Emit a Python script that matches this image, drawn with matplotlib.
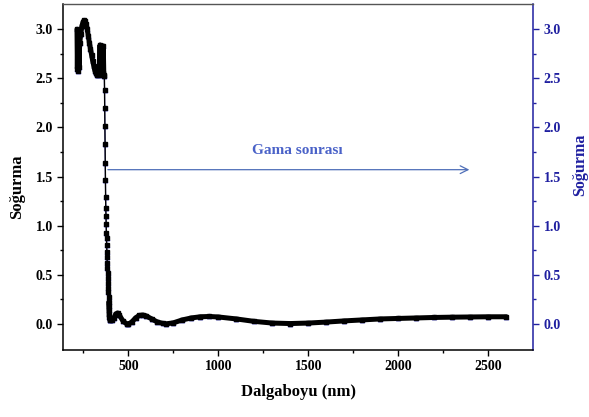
import numpy as np
import matplotlib
matplotlib.use("Agg")
import matplotlib.pyplot as plt

plt.rcParams['font.family'] = ['Liberation Serif', 'DejaVu Serif']
plt.rcParams['font.weight'] = 'bold'

# UV region: noisy band, peak, second band
wl_uv = [215, 217, 219, 221, 223, 226, 230, 236, 242, 248, 254, 260, 266,
         272, 278, 284, 290, 296, 302, 308, 314, 320, 326, 332, 336, 340,
         343, 346, 349, 352, 355, 358, 361, 364, 367]
abs_uv = [3.00, 2.60, 2.95, 2.58, 2.92, 2.62, 2.86, 2.95, 3.03, 3.07, 3.09,
          3.08, 3.05, 3.00, 2.93, 2.86, 2.80, 2.74, 2.68, 2.63, 2.58, 2.55,
          2.53, 2.53, 2.56, 2.62, 2.84, 2.55, 2.82, 2.53, 2.80, 2.55, 2.83,
          2.53, 2.52]

# absorption edge
wl_edge = [368, 369, 370, 371, 372, 373, 374, 375, 376, 377, 378, 379, 380,
           381, 382, 383, 384, 385, 386, 387, 388, 389, 390, 391, 392, 393,
           394, 395, 396, 398, 400]
abs_edge = [2.38, 2.20, 2.01, 1.83, 1.64, 1.46, 1.29, 1.18, 1.10, 1.02, 0.93,
            0.87, 0.80, 0.73, 0.68, 0.62, 0.57, 0.52, 0.47, 0.42, 0.37, 0.32,
            0.27, 0.22, 0.18, 0.14, 0.10, 0.07, 0.05, 0.04, 0.04]

# visible / NIR tail
wl_vis = [410, 420, 430, 440, 450, 470, 490, 500, 520, 540, 560, 580, 600,
          630, 660, 690, 710, 750, 800, 850, 900, 950, 1000, 1100, 1200,
          1300, 1400, 1500, 1600, 1700, 1800, 1900, 2000, 2100, 2200, 2300,
          2400, 2500, 2600]
abs_vis = [0.04, 0.06, 0.10, 0.11, 0.09, 0.03, 0.00, -0.005, 0.02, 0.06,
           0.085, 0.09, 0.08, 0.05, 0.02, 0.005, 0.0, 0.01, 0.04, 0.06, 0.072,
           0.075, 0.07, 0.05, 0.025, 0.008, 0.003, 0.008, 0.018, 0.03, 0.04,
           0.05, 0.055, 0.06, 0.065, 0.068, 0.07, 0.072, 0.072]

wl = np.array(wl_uv + wl_edge + wl_vis)
absorb = np.array(abs_uv + abs_edge + abs_vis)

yticks = [0.0, 0.5, 1.0, 1.5, 2.0, 2.5, 3.0]
xticks = [500, 1000, 1500, 2000, 2500]
blue = '#1f1fa0'

fig = plt.figure(figsize=(5.89, 4.17), dpi=100)
ax = fig.add_axes([0.1075, 0.161, 0.798, 0.830])
ax2 = ax.twinx()

# right-axis series (triangles) behind the black squares
ax2.plot(wl, absorb, color='#5a5ad8', lw=0.8, marker='^', ms=3.5,
         mfc='none', mec='#6a6ae0', mew=0.7)

# dense squares: thin line everywhere, thick band where points pile up
ax.plot(wl, absorb, color='black', lw=1.0)
ax.plot(wl_uv, abs_uv, color='black', lw=3.6, solid_joinstyle='round',
        solid_capstyle='round')
ax.plot(wl_edge[-8:] + wl_vis, abs_edge[-8:] + abs_vis, color='black',
        lw=3.6, solid_joinstyle='round', solid_capstyle='round')
ax.plot(wl, absorb, ls='none', marker='s', ms=3.4, color='black')
ax.set_zorder(ax2.get_zorder() + 1)
ax.patch.set_visible(False)

for a in (ax, ax2):
    a.set_xlim(139, 2750)
    a.set_ylim(-0.265, 3.26)
    a.set_yticks(yticks)

ax.set_xticks(xticks)
ax.set_xticks(np.arange(250, 2750, 500), minor=True)
ax.set_yticks(np.arange(0.25, 3.25, 0.5), minor=True)
ax2.set_yticks(np.arange(0.25, 3.25, 0.5), minor=True)
ax.set_yticklabels([f'{v:.1f}' for v in yticks])
ax2.set_yticklabels([f'{v:.1f}' for v in yticks])

ax.tick_params(axis='both', which='major', direction='out', length=4,
               width=1, labelsize=10, top=False)
ax.tick_params(axis='both', which='minor', direction='out', length=2.5,
               width=1, top=False)
ax2.tick_params(axis='y', which='major', direction='out', length=4, width=1,
                colors=blue, labelsize=10)
ax2.tick_params(axis='y', which='minor', direction='out', length=2.5,
                width=1, colors=blue)

ax.spines['left'].set_linewidth(1.1)
ax.spines['bottom'].set_linewidth(1.1)
ax.spines['top'].set_color('#555555')
ax.spines['top'].set_linewidth(1.0)
ax.spines['right'].set_visible(False)
ax2.spines['right'].set_color(blue)
ax2.spines['right'].set_linewidth(1.1)
for s in ('left', 'top', 'bottom'):
    ax2.spines[s].set_visible(False)

ax.set_xlabel('Dalgaboyu (nm)', fontsize=12, fontweight='bold', labelpad=8)
ax.set_ylabel('Soğurma', fontsize=12, fontweight='bold')
ax.yaxis.set_label_coords(-0.082, 0.47)
ax2.set_ylabel('Soğurma', fontsize=11.5, fontweight='bold', color=blue)
ax2.yaxis.set_label_coords(1.082, 0.535)

ax.annotate('', xy=(2410, 1.57), xytext=(371, 1.57),
            arrowprops=dict(arrowstyle='->', color='#4f6fb8', lw=0.9,
                            mutation_scale=14))
ax.text(1440, 1.77, 'Gama sonrası', color='#4a62c8', fontsize=11,
        fontweight='bold', ha='center', va='center')

fig.savefig('out.png', dpi=100)
